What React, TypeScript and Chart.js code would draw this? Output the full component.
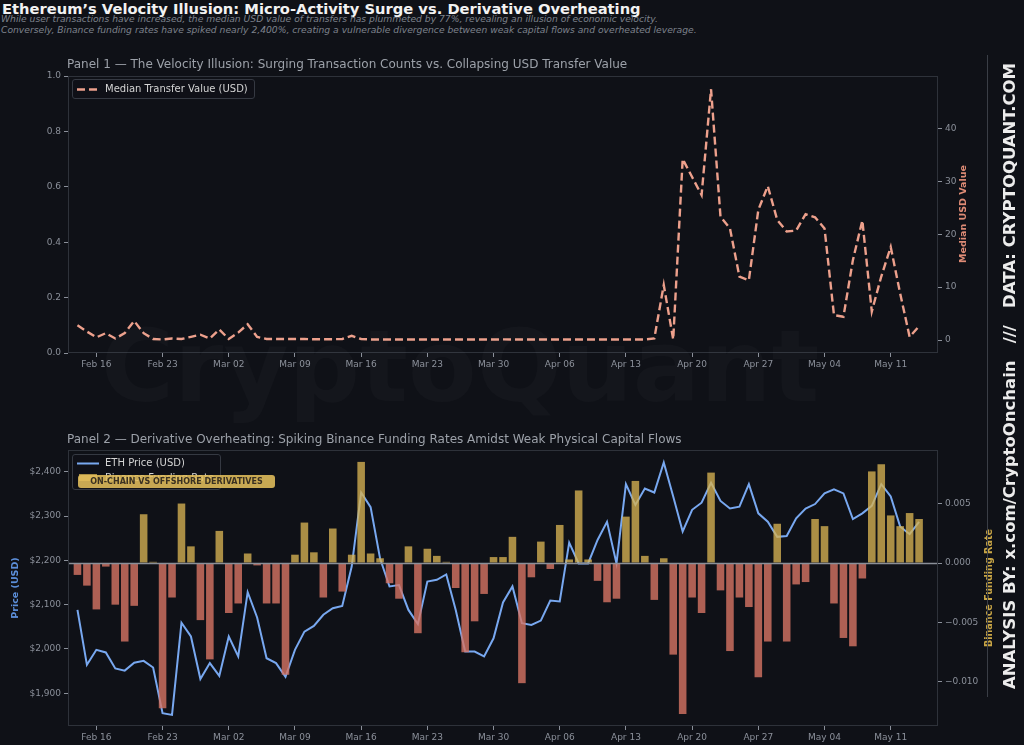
import React, { useEffect, useRef } from "react";
import { Chart, registerables } from "chart.js";

Chart.register(...registerables);

// ---- DATA ----
// Daily observations, day 0 = Feb 14 ... day 89 = May 14
const tickDays = [2, 9, 16, 23, 30, 37, 44, 51, 58, 65, 72, 79, 86];
const tickLabels = ["Feb 16", "Feb 23", "Mar 02", "Mar 09", "Mar 16", "Mar 23", "Mar 30", "Apr 06", "Apr 13", "Apr 20", "Apr 27", "May 04", "May 11"];

const medianTransferUsd = [
  2.8, 1.6, 0.5, 1.3, 0.3, 1.3, 3.6, 1.3, 0.2, 0.1,
  0.3, 0.2, 0.6, 1.0, 0.3, 2.0, 0.2, 1.4, 3.0, 0.6,
  0.2, 0.2, 0.2, 0.2, 0.2, 0.15, 0.15, 0.15, 0.2, 0.8,
  0.2, 0.1, 0.1, 0.1, 0.1, 0.1, 0.1, 0.1, 0.1, 0.1,
  0.1, 0.1, 0.1, 0.1, 0.1, 0.12, 0.1, 0.1, 0.1, 0.1,
  0.1, 0.1, 0.1, 0.1, 0.1, 0.1, 0.1, 0.1, 0.1, 0.1,
  0.1, 0.3, 10.4, 0.1, 34.2, 30.8, 27.4, 47.4, 23.3, 21.1,
  12.0, 11.3, 24.6, 29.1, 22.7, 20.5, 20.7, 23.8, 23.2, 21.1,
  4.7, 4.4, 15.1, 22.6, 5.4, 12.0, 17.6, 8.8, 0.6, 2.6,
];

const ethPriceUsd = [
  2088, 1964, 1998, 1992, 1956, 1951, 1969, 1973, 1958, 1855,
  1851, 2059, 2028, 1932, 1968, 1939, 2028, 1983, 2128, 2071,
  1979, 1968, 1937, 1998, 2039, 2052, 2077, 2092, 2097, 2186,
  2353, 2320, 2204, 2141, 2144, 2088, 2056, 2152, 2156, 2168,
  2088, 1994, 1994, 1983, 2024, 2105, 2141, 2058, 2054, 2064,
  2109, 2107, 2240, 2193, 2193, 2246, 2287, 2193, 2372, 2325,
  2362, 2353, 2421, 2344, 2265, 2314, 2330, 2375, 2334, 2317,
  2321, 2372, 2306, 2287, 2253, 2255, 2295, 2317, 2327, 2351,
  2360, 2351, 2293, 2306, 2323, 2372, 2344, 2276, 2259, 2287,
];

const binanceFundingRate = [
  -0.0010, -0.0019, -0.0039, -0.0003, -0.0035, -0.0066, -0.0036, 0.0041, 0.0001, -0.0122,
  -0.0029, 0.0050, 0.0014, -0.0048, -0.0081, 0.0027, -0.0042, -0.0034, 0.0008, -0.0002,
  -0.0034, -0.0034, -0.0094, 0.0007, 0.0034, 0.0009, -0.0029, 0.0029, -0.0024, 0.0007,
  0.0085, 0.0008, 0.0004, -0.0017, -0.0030, 0.0014, -0.0059, 0.0012, 0.0006, 0.0001,
  -0.0021, -0.0075, -0.0049, -0.0026, 0.0005, 0.0005, 0.0022, -0.0101, -0.0012, 0.0018,
  -0.0005, 0.0032, 0.0003, 0.0061, 0.0003, -0.0015, -0.0033, -0.0030, 0.0039, 0.0069,
  0.0006, -0.0031, 0.0004, -0.0077, -0.0127, -0.0029, -0.0042, 0.0076, -0.0023, -0.0074,
  -0.0029, -0.0037, -0.0096, -0.0066, 0.0033, -0.0066, -0.0018, -0.0016, 0.0037, 0.0031,
  -0.0034, -0.0063, -0.0070, -0.0013, 0.0077, 0.0083, 0.0040, 0.0031, 0.0042, 0.0037,
];

const leftTicksP1 = [0, 0.2, 0.4, 0.6, 0.8, 1.0];
const rightTicksP1 = [0, 10, 20, 30, 40];
const priceTicks = [1900, 2000, 2100, 2200, 2300, 2400];
const fundingTicks = [-0.01, -0.005, 0, 0.005];

// ---- STYLE ----
const BG = "#0f1117";
const FRAME = "#2e323a";
const TICK = "#8b909a";
const SALMON = "#eda08c";
const SALMON_LABEL = "#de8b75";
const BLUE = "#78a8f0";
const BLUE_LABEL = "#5b8ed9";
const GOLD_FILL = "rgba(214,178,82,0.78)";
const RED_FILL = "rgba(214,116,100,0.8)";
const GOLD_LABEL = "#c9a646";
const FONT = '"DejaVu Sans", sans-serif';

Chart.defaults.font.family = FONT;

const framePlugin = (zeroAxis?: string) => ({
  id: "frame",
  afterDatasetsDraw(chart: any) {
    const { ctx, chartArea: a } = chart;
    ctx.save();
    if (zeroAxis) {
      const y = Math.round(chart.scales[zeroAxis].getPixelForValue(0)) + 0.5;
      ctx.strokeStyle = "#8a8f98";
      ctx.lineWidth = 1.3;
      ctx.beginPath();
      ctx.moveTo(a.left, y);
      ctx.lineTo(a.right, y);
      ctx.stroke();
    }
    ctx.strokeStyle = FRAME;
    ctx.lineWidth = 1;
    ctx.strokeRect(a.left + 0.5, a.top + 0.5, a.right - a.left - 1, a.bottom - a.top - 1);
    ctx.restore();
  },
});

const tickFont = { family: FONT, size: 9 };

const xScale = (height: number) => ({
  type: "linear" as const,
  min: -1,
  max: 91,
  offset: false,
  afterBuildTicks: (s: any) => {
    s.ticks = tickDays.map((v) => ({ value: v }));
  },
  afterFit: (s: any) => {
    s.height = height;
  },
  ticks: {
    autoSkip: false,
    maxRotation: 0,
    color: TICK,
    font: tickFont,
    padding: 2,
    callback: (v: any) => {
      const k = tickDays.indexOf(v);
      return k >= 0 ? tickLabels[k] : "";
    },
  },
  grid: { display: true, offset: false, drawOnChartArea: false, tickLength: 4, tickColor: TICK },
  border: { display: false },
});

const yScale = (
  position: "left" | "right",
  min: number,
  max: number,
  ticks: number[],
  width: number,
  fmt: (v: number) => string
) => ({
  type: "linear" as const,
  position,
  min,
  max,
  afterBuildTicks: (s: any) => {
    s.ticks = ticks.map((v) => ({ value: v }));
  },
  afterFit: (s: any) => {
    s.width = width;
  },
  ticks: { color: TICK, font: tickFont, padding: 3, callback: (v: any) => fmt(Number(v)) },
  grid: { display: true, drawOnChartArea: false, tickLength: 4, tickColor: TICK },
  border: { display: false },
});

const minus = (s: string) => s.replace("-", "\u2212");

export default function App() {
  const c1 = useRef<HTMLCanvasElement>(null);
  const c2 = useRef<HTMLCanvasElement>(null);

  useEffect(() => {
    document.body.style.margin = "0";
    document.body.style.background = BG;

    const ch1 = new Chart(c1.current as HTMLCanvasElement, {
      type: "line",
      data: {
        datasets: [
          {
            label: "Median Transfer Value (USD)",
            data: medianTransferUsd.map((y, i) => ({ x: i, y })),
            yAxisID: "y1",
            borderColor: SALMON,
            borderWidth: 2.4,
            borderDash: [8, 4],
            pointRadius: 0,
            tension: 0,
            fill: false,
          },
        ],
      },
      options: {
        responsive: false,
        animation: false,
        devicePixelRatio: 1,
        layout: { padding: { top: 76, left: 0, right: 0, bottom: 0 } },
        plugins: { legend: { display: false }, tooltip: { enabled: false } },
        scales: {
          x: xScale(27) as any,
          y: yScale("left", 0, 1, leftTicksP1, 68, (v) => v.toFixed(1)) as any,
          y1: yScale("right", -2.45, 49.9, rightTicksP1, 47, (v) => String(Math.round(v))) as any,
        },
      },
      plugins: [framePlugin()],
    });

    const ch2 = new Chart(c2.current as HTMLCanvasElement, {
      type: "bar",
      data: {
        datasets: [
          {
            type: "bar",
            label: "Binance Funding Rate",
            data: binanceFundingRate.map((y, i) => ({ x: i, y })),
            yAxisID: "y1",
            backgroundColor: binanceFundingRate.map((v) => (v >= 0 ? GOLD_FILL : RED_FILL)),
            borderWidth: 0,
            barPercentage: 1,
            categoryPercentage: 0.8,
            order: 1,
          } as any,
          {
            type: "line",
            label: "ETH Price (USD)",
            data: ethPriceUsd.map((y, i) => ({ x: i, y })),
            yAxisID: "y",
            borderColor: BLUE,
            borderWidth: 2,
            pointRadius: 0,
            tension: 0,
            fill: false,
            order: 2,
          } as any,
        ],
      },
      options: {
        responsive: false,
        animation: false,
        devicePixelRatio: 1,
        layout: { padding: { top: 70, left: 0, right: 0, bottom: 0 } },
        plugins: { legend: { display: false }, tooltip: { enabled: false } },
        scales: {
          x: xScale(19) as any,
          y: yScale("left", 1826, 2449, priceTicks, 68, (v) => "$" + v.toLocaleString("en-US")) as any,
          y1: yScale("right", -0.0137, 0.0095, fundingTicks, 47, (v) => minus(v.toFixed(3))) as any,
        },
      },
      plugins: [framePlugin("y1")],
    });

    return () => {
      ch1.destroy();
      ch2.destroy();
    };
  }, []);

  const abs = (s: React.CSSProperties): React.CSSProperties => ({ position: "absolute", whiteSpace: "nowrap", ...s });
  const vertical = (cx: number, cy: number, w: number, s: React.CSSProperties): React.CSSProperties =>
    abs({
      left: cx - w / 2,
      top: cy - 8,
      width: w,
      height: 16,
      lineHeight: "16px",
      textAlign: "center",
      transform: "rotate(-90deg)",
      transformOrigin: "50% 50%",
      ...s,
    });

  return (
    <div
      style={{
        position: "fixed",
        left: 0,
        top: 0,
        width: 1024,
        height: 745,
        background: BG,
        overflow: "hidden",
        fontFamily: FONT,
      }}
    >
      <div style={abs({ left: 2, top: 0, fontSize: 14.7, lineHeight: "17px", fontWeight: "bold", color: "#f2f2f2" })}>
        Ethereum’s Velocity Illusion: Micro-Activity Surge vs. Derivative Overheating
      </div>
      <div style={abs({ left: 1, top: 13, fontSize: 9.2, lineHeight: "11px", fontStyle: "italic", color: "#7d828c" })}>
        While user transactions have increased, the median USD value of transfers has plummeted by 77%, revealing an illusion of economic velocity.
      </div>
      <div style={abs({ left: 1, top: 24, fontSize: 9.2, lineHeight: "11px", fontStyle: "italic", color: "#7d828c" })}>
        Conversely, Binance funding rates have spiked nearly 2,400%, creating a vulnerable divergence between weak capital flows and overheated leverage.
      </div>

      <canvas ref={c1} width={985} height={380} style={{ position: "absolute", left: 0, top: 0, width: 985, height: 380 }} />
      <canvas ref={c2} width={985} height={365} style={{ position: "absolute", left: 0, top: 380, width: 985, height: 365 }} />

      <div style={abs({ left: 67, top: 57, fontSize: 12, lineHeight: "15px", color: "#9ca1a9" })}>
        Panel 1 — The Velocity Illusion: Surging Transaction Counts vs. Collapsing USD Transfer Value
      </div>
      <div style={abs({ left: 67, top: 432, fontSize: 12, lineHeight: "15px", color: "#9ca1a9" })}>
        Panel 2 — Derivative Overheating: Spiking Binance Funding Rates Amidst Weak Physical Capital Flows
      </div>

      {/* legend panel 1 */}
      <div
        style={abs({
          left: 72,
          top: 79,
          width: 183,
          height: 20,
          border: "1px solid #353942",
          borderRadius: 3,
          background: "rgba(15,17,23,0.85)",
          boxSizing: "border-box",
        })}
      >
        <svg width={24} height={20} style={{ position: "absolute", left: 3, top: 0 }}>
          <line x1={1} y1={9.5} x2={23} y2={9.5} stroke={SALMON} strokeWidth={2.4} strokeDasharray="8 4" />
        </svg>
        <div style={abs({ left: 32, top: 2, fontSize: 10, lineHeight: "14px", color: "#d4d4d4" })}>Median Transfer Value (USD)</div>
      </div>

      {/* legend panel 2 */}
      <div
        style={abs({
          left: 72,
          top: 454,
          width: 149,
          height: 36,
          border: "1px solid #353942",
          borderRadius: 3,
          background: "rgba(15,17,23,0.85)",
          boxSizing: "border-box",
        })}
      >
        <svg width={24} height={34} style={{ position: "absolute", left: 3, top: 0 }}>
          <line x1={1} y1={8.5} x2={23} y2={8.5} stroke={BLUE} strokeWidth={2} />
          <rect x={3} y={19} width={18} height={7} fill={GOLD_FILL} />
        </svg>
        <div style={abs({ left: 32, top: 1, fontSize: 10, lineHeight: "14px", color: "#d4d4d4" })}>ETH Price (USD)</div>
        <div style={abs({ left: 32, top: 16, fontSize: 10, lineHeight: "14px", color: "#d4d4d4" })}>Binance Funding Rate</div>
      </div>
      <div
        style={abs({
          left: 78,
          top: 475,
          width: 197,
          height: 13,
          borderRadius: 3,
          background: "rgba(226,190,92,0.88)",
          color: "#3a3122",
          fontSize: 8,
          lineHeight: "13px",
          fontWeight: "bold",
          textAlign: "center",
        })}
      >
        ON-CHAIN VS OFFSHORE DERIVATIVES
      </div>

      {/* axis titles */}
      <div style={vertical(963, 214, 200, { fontSize: 9.5, fontWeight: "bold", color: SALMON_LABEL })}>Median USD Value</div>
      <div style={vertical(15, 588, 200, { fontSize: 9.5, fontWeight: "bold", color: BLUE_LABEL })}>Price (USD)</div>
      <div style={vertical(989, 588, 200, { fontSize: 9.6, fontWeight: "bold", color: GOLD_LABEL })}>Binance Funding Rate</div>

      {/* side credit */}
      <div style={abs({ left: 987, top: 55, width: 1, height: 642, background: "#3a3e46" })} />
      <div style={vertical(1010, 376, 720, { fontSize: 16.5, fontWeight: "bold", color: "#ececec", height: 20, lineHeight: "20px", top: 366 })}>
        ANALYSIS BY: x.com/CryptoOnchain&nbsp;&nbsp;&nbsp;///&nbsp;&nbsp;&nbsp;DATA: CRYPTOQUANT.COM
      </div>

      {/* watermark */}
      <div
        style={abs({
          left: 100,
          top: 312,
          width: 720,
          textAlign: "center",
          fontSize: 100,
          lineHeight: "110px",
          fontWeight: "bold",
          color: "rgba(255,255,255,0.025)",
          pointerEvents: "none",
        })}
      >
        CryptoQuant
      </div>
    </div>
  );
}
